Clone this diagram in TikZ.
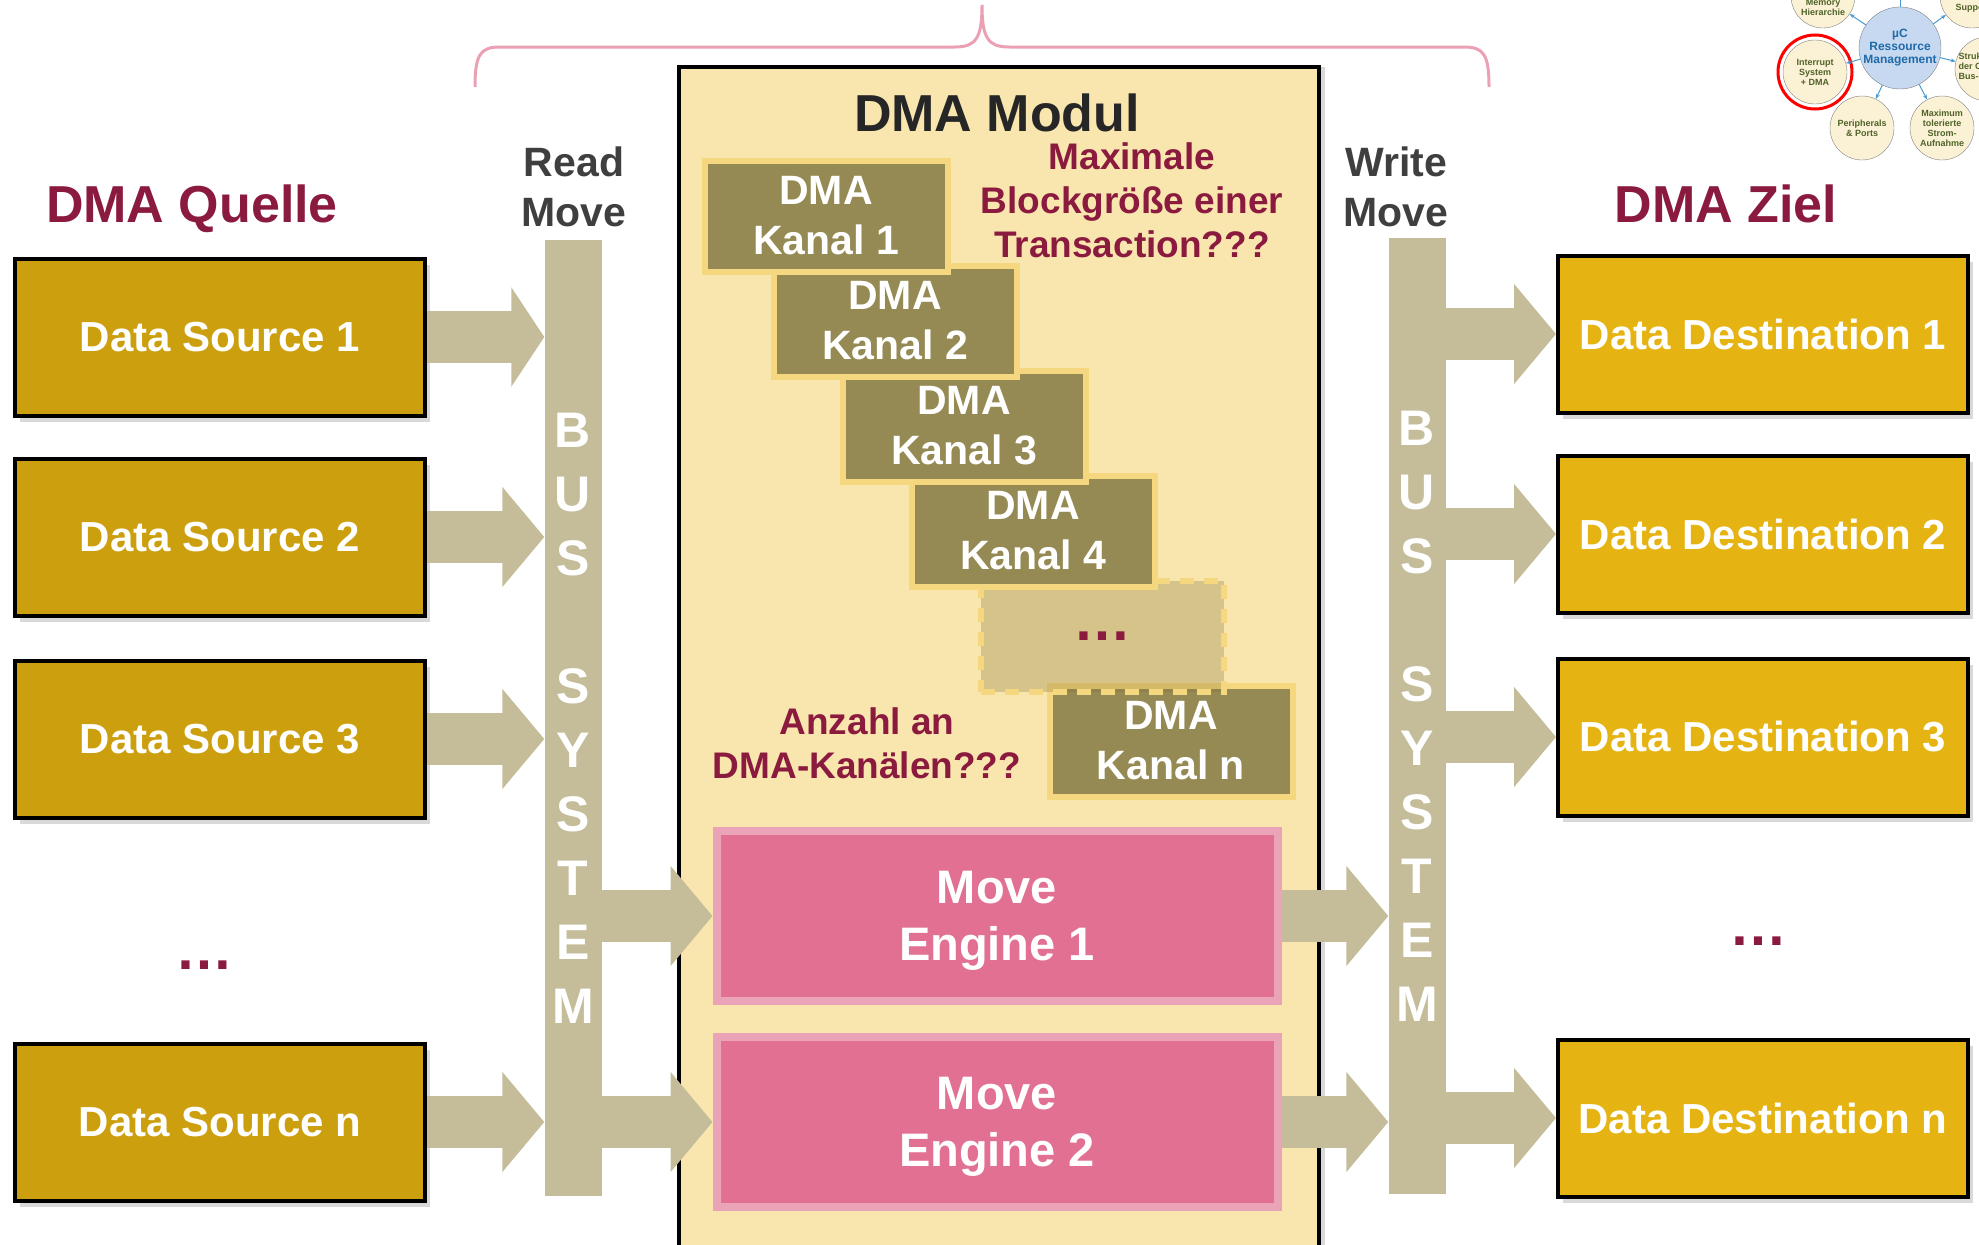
\documentclass[tikz,border=0pt]{standalone}
\usepackage{fontspec}
\setmainfont{Liberation Sans}
\usetikzlibrary{arrows.meta, shadows}

\definecolor{srcgold}{HTML}{CC9F0F}
\definecolor{dstgold}{HTML}{E5B413}
\definecolor{busgray}{HTML}{C5BD99}
\definecolor{modulfill}{HTML}{F9E6AE}
\definecolor{kanalfill}{HTML}{958A54}
\definecolor{kanalrim}{HTML}{F5D77F}
\definecolor{dotsfill}{HTML}{857536}
\definecolor{enginefill}{HTML}{E27093}
\definecolor{enginerim}{HTML}{EBA3B7}
\definecolor{darkred}{HTML}{8B1A3F}
\definecolor{titlegray}{HTML}{262626}
\definecolor{movegray}{HTML}{3F3F3F}
\definecolor{bracepink}{HTML}{EBA0B4}
\definecolor{mmblue}{HTML}{C6D9F1}
\definecolor{mmcream}{HTML}{FBF2D5}
\definecolor{mmgreen}{HTML}{4F6228}
\definecolor{mmtext}{HTML}{1F6AA8}
\definecolor{mmarrow}{HTML}{4A9BD0}

\tikzstyle{source} = [
    rectangle,
    minimum width=410pt,
    minimum height=157pt,
    draw=black,
    line width=4pt,
    fill=srcgold,
    text=white,
    font=\fontsize{42}{50}\selectfont\bfseries,
    drop shadow={shadow xshift=5pt, shadow yshift=-6pt, opacity=0.3}
]
\tikzstyle{destination} = [source, fill=dstgold]
\tikzstyle{bus} = [
    rectangle,
    minimum width=57pt,
    minimum height=956pt,
    fill=busgray,
    text=white,
    align=center,
    font=\fontsize{50}{64}\selectfont\bfseries
]
\tikzstyle{kanal} = [
    rectangle,
    minimum width=243pt,
    minimum height=111pt,
    draw=kanalrim,
    line width=6pt,
    fill=kanalfill,
    text=white,
    align=center,
    font=\fontsize{41}{50}\selectfont\bfseries
]
\tikzstyle{engine} = [
    rectangle,
    minimum width=561pt,
    minimum height=170pt,
    draw=enginerim,
    line width=8pt,
    fill=enginefill,
    text=white,
    text depth=0pt,
    align=center,
    font=\fontsize{47}{57}\selectfont\bfseries
]
\tikzstyle{question} = [
    text=darkred,
    align=center,
    font=\fontsize{37}{44}\selectfont\bfseries
]
\tikzstyle{heading} = [text=darkred, font=\fontsize{52}{60}\selectfont\bfseries]
\tikzstyle{movelabel} = [text=movegray, align=center, font=\fontsize{41}{50}\selectfont\bfseries]
\tikzstyle{ellipsis} = [text=darkred, font=\fontsize{58}{60}\selectfont\bfseries]
\tikzstyle{busarrow} = [draw=busgray, line width=52pt, -{Triangle[width=98pt,length=42pt]}]
\tikzstyle{mmnode} = [
    circle,
    draw=gray,
    fill=mmcream,
    minimum size=64pt,
    inner sep=0pt,
    text=mmgreen,
    align=center,
    font=\fontsize{9}{10}\selectfont\bfseries
]
\tikzstyle{mmlabel} = [text=mmgreen, font=\fontsize{9}{10}\selectfont\bfseries]
\tikzstyle{mmlink} = [draw=mmarrow, line width=1pt, -{Stealth[length=5pt,width=4pt]}]

\begin{document}
\begin{tikzpicture}[x=1pt, y=-1pt, node distance=105pt]
\useasboundingbox (0,0) rectangle (1979,1245);

% Klammer oben
\draw [bracepink, line width=3pt] (475,87) .. controls (475,55) and (480,47) .. (500,47)
    -- (955,47) .. controls (976,47) and (982,38) .. (982,5)
    .. controls (982,38) and (988,47) .. (1009,47)
    -- (1464,47) .. controls (1484,47) and (1489,55) .. (1489,87);

% DMA Modul
\node (modul) [rectangle, draw=black, line width=4pt, fill=modulfill,
    minimum width=640pt, minimum height=1200pt, anchor=north west,
    drop shadow={shadow xshift=6pt, shadow yshift=0pt, opacity=0.3}] at (677,65) {};
\node (title) [text=titlegray, font=\fontsize{52}{60}\selectfont\bfseries] at (997,113) {DMA Modul};

% Kanaele, hinterster zuerst
\node (kn) [kanal] at (1171,741) {DMA\\Kanal n};
\node (kdots) [kanal, above of=kn, xshift=-69pt, dash pattern=on 14pt off 10pt,
    fill=dotsfill, fill opacity=0.3, text opacity=1, text=darkred,
    font=\fontsize{58}{60}\selectfont\bfseries] {…};
\node (k4) [kanal, above of=kdots, xshift=-69pt] {DMA\\Kanal 4};
\node (k3) [kanal, above of=k4, xshift=-69pt] {DMA\\Kanal 3};
\node (k2) [kanal, above of=k3, xshift=-69pt] {DMA\\Kanal 2};
\node (k1) [kanal, above of=k2, xshift=-69pt] {DMA\\Kanal 1};

\node (blocksize) [question] at (1132,200) {Maximale\\Blockgröße einer\\Transaction???};
\node (kanalcount) [question] at (867,743) {Anzahl an\\DMA-Kanälen???};

\node (engine1) [engine] at (997,916) {Move\\Engine 1};
\node (engine2) [engine] at (997,1122) {Move\\Engine 2};

% Bussysteme
\node (readbus) [bus] at (573,718) {B\\U\\S\\[64pt]S\\Y\\S\\T\\E\\M};
\node (writebus) [bus] at (1417,716) {B\\U\\S\\[64pt]S\\Y\\S\\T\\E\\M};
\node (readlbl) [movelabel] at (574,187) {Read\\Move};
\node (writelbl) [movelabel] at (1396,187) {Write\\Move};

% Quellen
\node (quelle) [heading] at (192,209) {DMA Quelle};
\node (src1) [source] at (220,337) {Data Source 1};
\node (src2) [source, below of=src1, yshift=-95pt] {Data Source 2};
\node (src3) [source, below of=src2, yshift=-97pt] {Data Source 3};
\node (srcdots) [ellipsis, below of=src3, yshift=-121pt, xshift=-16pt] {…};
\node (srcn) [source, below of=srcdots, yshift=-52pt, xshift=16pt] {Data Source n};

% Ziele
\node (ziel) [heading] at (1726,204) {DMA Ziel};
\node (dst1) [destination] at (1763,334) {Data Destination 1};
\node (dst2) [destination, below of=dst1, yshift=-95pt] {Data Destination 2};
\node (dst3) [destination, below of=dst2, yshift=-98pt] {Data Destination 3};
\node (dstdots) [ellipsis, below of=dst3, yshift=-99pt, xshift=-5pt] {…};
\node (dstn) [destination, below of=dstdots, yshift=-72pt, xshift=5pt] {Data Destination n};

\draw [busarrow, -{Triangle[width=98pt,length=33pt]}] (src1.east) -- (src1.east -| readbus.west);
\draw [busarrow] (src2.east) -- (src2.east -| readbus.west);
\draw [busarrow] (src3.east) -- (src3.east -| readbus.west);
\draw [busarrow] (srcn.east) -- (srcn.east -| readbus.west);

\draw [busarrow] (readbus.east |- engine1.west) -- (engine1.west);
\draw [busarrow] (readbus.east |- engine2.west) -- (engine2.west);
\draw [busarrow] (engine1.east) -- (engine1.east -| writebus.west);
\draw [busarrow] (engine2.east) -- (engine2.east -| writebus.west);

\draw [busarrow] (writebus.east |- dst1.west) -- (dst1.west);
\draw [busarrow] (writebus.east |- dst2.west) -- (dst2.west);
\draw [busarrow] (writebus.east |- dst3.west) -- (dst3.west);
\draw [busarrow] (writebus.east |- dstn.west) -- (dstn.west);

% Mindmap oben rechts
\node (mmcenter) [circle, draw=gray, fill=mmblue, minimum size=80pt, inner sep=0pt,
    text=mmtext, align=center, font=\fontsize{12}{13}\selectfont\bfseries]
    at (1900,48) {µC\\Ressource\\Management};
\node (mmintr) [mmnode] at (1815,72) {Interrupt\\System\\+ DMA};
\node (mmring) [circle, draw=red, line width=3pt, minimum size=74pt] at (mmintr) {};
\node (mmperi) [mmnode] at (1862,128) {Peripherals\\\& Ports};
\node (mmstrom) [mmnode] at (1942,128) {Maximum\\tolerierte\\Strom-\\Aufnahme};
\node (mmmem) [mmnode] at (1823,-4) {};
\node (mmmemtxt) [mmlabel, align=center] at (1823,7) {Memory\\Hierarchie};
\node (mmsupp) [mmnode] at (1972,-4) {};
\node (mmsupptxt) [mmlabel, anchor=west] at (1952,8) {Support};
\node (mmbus) [mmnode] at (1987,69) {};
\node (mmbustxt) [mmlabel, anchor=west, align=left] at (1955,67) {Struktur\\der On-Chip\\Bus-Systeme};
\coordinate (mmup) at (1900,-10);

\draw [mmlink] (mmcenter) -- (mmintr);
\draw [mmlink] (mmcenter) -- (mmmem);
\draw [mmlink] (mmcenter) -- (mmperi);
\draw [mmlink] (mmcenter) -- (mmstrom);
\draw [mmlink] (mmcenter) -- (mmbus);
\draw [mmlink] (mmcenter) -- (mmsupp);
\draw [draw=mmarrow, line width=1pt] (mmcenter) -- (mmup);

\end{tikzpicture}
\end{document}
